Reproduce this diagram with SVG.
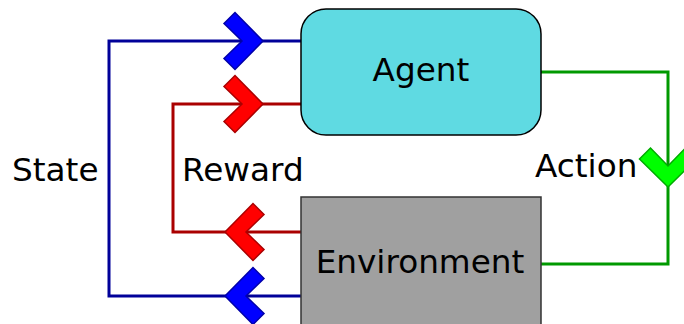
<svg xmlns="http://www.w3.org/2000/svg" width="684" height="324" viewBox="0 0 684 324">
<style>
text{font-family:"DejaVu Sans",Verdana,sans-serif;font-size:32.7px;fill:#000}
.line{fill:none;stroke-width:3}
.blue{stroke:#000099}
.red{stroke:#aa0000}
.green{stroke:#009900}
.chev-b{fill:#0000ff;stroke:#0000aa;stroke-width:1.5}
.chev-r{fill:#ff0000;stroke:#aa0000;stroke-width:1.5}
.chev-g{fill:#00ff00;stroke:#00aa00;stroke-width:1.5}
</style>
<defs>
<polygon id="chev" points="0,0 -28,-28.5 -39,-17.5 -21,0 -39,17.5 -28,28.5"/>
</defs>
<g id="connectors">
<polyline class="line blue" points="301,41 109,41 109,296 301,296"/>
<polyline class="line red" points="301,104 173,104 173,232 301,232"/>
<polyline class="line green" points="541,72 668,72 668,264 541,264"/>
<use href="#chev" class="chev-b" transform="translate(263,41)"/>
<use href="#chev" class="chev-r" transform="translate(263,104)"/>
<use href="#chev" class="chev-r" transform="translate(225,232) rotate(180)"/>
<use href="#chev" class="chev-b" transform="translate(225,296) rotate(180)"/>
<use href="#chev" class="chev-g" transform="translate(668,187) rotate(90)"/>
</g>
<g id="agent">
<rect x="301" y="9" width="240" height="126" rx="25" ry="25" fill="#5fdae2" stroke="#000" stroke-width="1.5"/>
<text x="421" y="81" text-anchor="middle">Agent</text>
</g>
<g id="environment">
<rect x="301" y="197" width="240" height="130" fill="#a0a0a0" stroke="#333" stroke-width="1.5"/>
<text x="420" y="273" text-anchor="middle">Environment</text>
</g>
<g id="labels">
<text x="12" y="181">State</text>
<text x="182" y="181">Reward</text>
<text x="535" y="177">Action</text>
</g>
</svg>
